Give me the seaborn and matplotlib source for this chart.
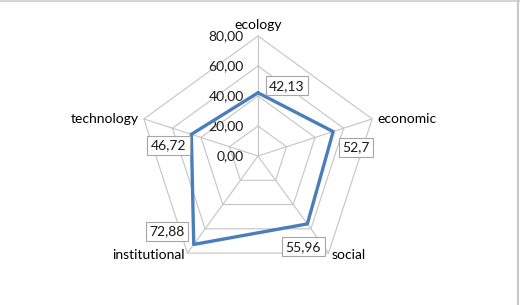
import numpy as np
import pandas as pd
import matplotlib
matplotlib.use("Agg")
import matplotlib.pyplot as plt
from matplotlib.lines import Line2D
import seaborn as sns

# data
categories = ["ecology", "economic", "social", "institutional", "technology"]
values = [42.13, 52.7, 55.96, 72.88, 46.72]
value_labels = ["42,13", "52,7", "55,96", "72,88", "46,72"]
ticks = [0, 20, 40, 60, 80]
tick_labels = ["0,00", "20,00", "40,00", "60,00", "80,00"]

sns.set_style("white")
plt.rcParams["font.family"] = ["Lato", "DejaVu Sans"]

# angles: start at the top, go clockwise
angles = np.deg2rad(90 - 72 * np.arange(len(categories)))

fig = plt.figure(figsize=(5.2, 3.05), dpi=100)
ax = fig.add_axes([0, 0, 1, 1])
# 1 unit = 1.5 px, centre of the web at (258, 156) px from top-left
ax.set_xlim(-258 / 1.5, 262 / 1.5)
ax.set_ylim(-149 / 1.5, 156 / 1.5)
ax.set_aspect("equal")
ax.axis("off")

grid_col = "#c4c4c4"
rmax = ticks[-1]
for t in ticks[1:]:
    gx = np.append(t * np.cos(angles), t * np.cos(angles[0]))
    gy = np.append(t * np.sin(angles), t * np.sin(angles[0]))
    ax.plot(gx, gy, color=grid_col, lw=0.8, zorder=1)
for a in angles:
    ax.plot([0, rmax * np.cos(a)], [0, rmax * np.sin(a)], color=grid_col, lw=0.8, zorder=1)

fs = 10
# tick labels on the vertical axis, to the left
for t, lab in zip(ticks, tick_labels):
    ax.text(-9.5, t, lab, ha="right", va="center", fontsize=fs, color="#1a1a1a")

# data polygon
vals = np.array(values)
df = pd.DataFrame({
    "x": np.append(vals * np.cos(angles), vals[0] * np.cos(angles[0])),
    "y": np.append(vals * np.sin(angles), vals[0] * np.sin(angles[0])),
})
sns.lineplot(data=df, x="x", y="y", sort=False, estimator=None,
             color="#4a7ebb", lw=2.4, ax=ax, zorder=3)

# data labels in boxes
offsets = [(29, 7), (23, -16), (-4, -23), (-27, 13), (-23, -11)]
for v, a, lab, off in zip(values, angles, value_labels, offsets):
    ax.annotate(lab, (v * np.cos(a), v * np.sin(a)), xytext=off,
                textcoords="offset pixels", ha="center", va="center",
                fontsize=fs, color="#1a1a1a", zorder=4,
                bbox=dict(boxstyle="square,pad=0.25", fc="white",
                          ec="#a6a6a6", lw=0.8))

# category labels
cat_pos = [((0, 11), "center"), ((5, 0), "left"), ((3, -2), "left"),
           ((-3, -2), "right"), ((-5, 0), "right")]
for c, a, (off, ha) in zip(categories, angles, cat_pos):
    ax.annotate(c, (rmax * np.cos(a), rmax * np.sin(a)), xytext=off,
                textcoords="offset pixels", ha=ha, va="center",
                fontsize=fs, color="black")

# thin top and right edges like the original screenshot
fig.add_artist(Line2D([0, 1], [0.997, 0.997], transform=fig.transFigure,
                      color="#d6d6d6", lw=1.5))
fig.add_artist(Line2D([0.996, 0.996], [0, 1], transform=fig.transFigure,
                      color="#c8c8c8", lw=1.5))

fig.savefig("out.png", dpi=100)
